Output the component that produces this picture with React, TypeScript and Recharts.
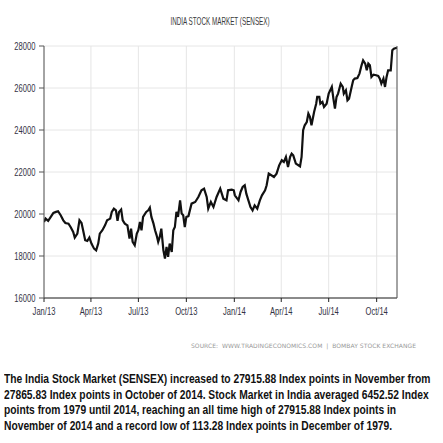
import React from 'react';
import { LineChart, Line, XAxis, YAxis, CartesianGrid } from 'recharts';

// SENSEX closes (roughly every 3-5 days)
const dates = [
  '2013-01-01', '2013-01-04', '2013-01-09', '2013-01-14', '2013-01-19', '2013-01-24', '2013-01-28',
  '2013-02-02', '2013-02-07', '2013-02-11', '2013-02-17', '2013-02-21', '2013-02-26',
  '2013-03-01', '2013-03-06', '2013-03-10', '2013-03-14', '2013-03-17', '2013-03-21', '2013-03-25', '2013-03-29',
  '2013-04-02', '2013-04-07', '2013-04-11', '2013-04-15', '2013-04-18', '2013-04-23', '2013-04-28',
  '2013-05-02', '2013-05-08', '2013-05-11', '2013-05-15', '2013-05-19', '2013-05-22', '2013-05-25', '2013-05-29',
  '2013-06-01', '2013-06-05', '2013-06-10', '2013-06-14', '2013-06-17', '2013-06-20', '2013-06-24', '2013-06-28',
  '2013-07-01', '2013-07-04', '2013-07-07', '2013-07-10', '2013-07-16', '2013-07-20', '2013-07-23', '2013-07-26', '2013-07-30',
  '2013-08-02', '2013-08-05', '2013-08-08', '2013-08-11', '2013-08-14', '2013-08-18', '2013-08-21', '2013-08-24', '2013-08-27', '2013-08-30',
  '2013-09-03', '2013-09-06', '2013-09-09', '2013-09-12', '2013-09-15', '2013-09-19', '2013-09-22', '2013-09-25', '2013-09-28',
  '2013-10-01', '2013-10-05', '2013-10-11', '2013-10-18', '2013-10-24', '2013-10-30',
  '2013-11-04', '2013-11-09', '2013-11-12', '2013-11-17', '2013-11-22', '2013-11-28',
  '2013-12-05', '2013-12-11', '2013-12-17', '2013-12-20', '2013-12-27', '2013-12-31',
  '2014-01-02', '2014-01-09', '2014-01-13', '2014-01-17', '2014-01-21', '2014-01-24', '2014-01-28',
  '2014-02-01', '2014-02-05', '2014-02-09', '2014-02-14', '2014-02-19', '2014-02-23',
  '2014-03-01', '2014-03-04', '2014-03-08', '2014-03-13', '2014-03-18', '2014-03-23', '2014-03-28',
  '2014-04-02', '2014-04-06', '2014-04-10', '2014-04-14', '2014-04-18', '2014-04-21', '2014-04-24', '2014-04-29',
  '2014-05-04', '2014-05-07', '2014-05-10', '2014-05-13', '2014-05-16', '2014-05-20', '2014-05-23', '2014-05-26', '2014-05-29',
  '2014-06-03', '2014-06-07', '2014-06-09', '2014-06-13', '2014-06-15', '2014-06-19', '2014-06-22', '2014-06-27',
  '2014-07-01', '2014-07-07', '2014-07-10', '2014-07-13', '2014-07-16', '2014-07-19', '2014-07-24', '2014-07-28', '2014-07-30',
  '2014-08-03', '2014-08-06', '2014-08-09', '2014-08-14', '2014-08-17', '2014-08-20', '2014-08-25', '2014-08-29',
  '2014-09-02', '2014-09-05', '2014-09-09', '2014-09-12', '2014-09-15', '2014-09-18', '2014-09-21', '2014-09-25', '2014-09-30',
  '2014-10-04', '2014-10-07', '2014-10-10', '2014-10-14', '2014-10-17', '2014-10-20', '2014-10-23', '2014-10-28', '2014-10-31',
  '2014-11-03', '2014-11-07', '2014-11-09',
];

const sensex = [
  19620, 19780, 19670, 19860, 20050, 20100, 20130,
  19940, 19700, 19570, 19540, 19380, 19145,
  18875, 19065, 19700, 19570, 19225, 18750, 18715, 18875,
  18590, 18350, 18270, 18590, 19065, 19225, 19460,
  19700, 19780, 20100, 20256, 20175, 19670, 20100, 20210,
  19700, 19540, 19460, 18830, 19300, 18670, 18510, 19065,
  19225, 19620, 19225, 19860, 20100, 20175, 20300, 19860, 19540,
  19225, 18985, 18670, 18907, 19300, 18270, 17875, 18430, 17955, 18590,
  18190, 19225, 19380, 20100, 19860, 20650, 20018, 19940, 19380,
  19860, 19900, 20493, 20573, 20811, 21128,
  21208, 20811, 20255, 20573, 20335, 20811,
  21208, 20731, 20652, 21128, 21160, 21128,
  20890, 20652, 21049, 21287, 21367, 20970, 20652,
  20335, 20176, 20414, 20256, 20652, 20890,
  21129, 21367, 21922, 21843, 21763, 21922, 22319,
  22557, 22478, 22716, 22240, 22716, 22875, 22795, 22398,
  22319, 22271, 22716, 23986, 24224, 24382, 24779, 24621, 24224,
  24859, 25254, 25573, 25573, 25254, 25335, 25097, 25254,
  25732, 26050, 25494, 25018, 25574, 25732, 26208, 26050, 25732,
  25891, 25415, 25494, 26050, 26367, 26447, 26478, 26685,
  27081, 27320, 27161, 26843, 27161, 27081, 26526, 26637, 26605,
  26573, 26447, 26208, 26447, 26050, 26526, 26843, 26843, 27796,
  27875, 27907, 27916,
];

const quarterStarts = ['2013-01-01', '2013-04-01', '2013-07-01', '2013-10-01', '2014-01-01', '2014-04-01', '2014-07-01', '2014-10-01'];
const quarterLabels = ['Jan/13', 'Apr/13', 'Jul/13', 'Oct/13', 'Jan/14', 'Apr/14', 'Jul/14', 'Oct/14'];
const yTicks = [16000, 18000, 20000, 22000, 24000, 26000, 28000];

const summaryLines = [
  'The India Stock Market (SENSEX) increased to 27915.88 Index points in November from',
  '27865.83 Index points in October of 2014. Stock Market in India averaged 6452.52 Index',
  'points from 1979 until 2014, reaching an all time high of 27915.88 Index points in',
  'November of 2014 and a record low of 113.28 Index points in December of 1979.',
];

const toTime = (d: string) => new Date(d + 'T00:00:00Z').getTime();

const data = dates.map((d, i) => ({ t: toTime(d), v: sensex[i] }));
const xTicks = quarterStarts.map(toTime);
const labelFor = (t: number) => quarterLabels[xTicks.indexOf(t)] ?? '';

const font = "'Liberation Sans', Arial, sans-serif";

// condensed tick label: the original uses a narrow face, so squeeze Liberation Sans
const NarrowTick = (props: any) => {
  const { x, y, payload, textAnchor, axis } = props;
  const label = axis === 'x' ? labelFor(payload.value) : String(payload.value);
  return (
    <g transform={`translate(${x},${y}) scale(0.76,1)`}>
      <text
        x={axis === 'right' ? 2 : axis === 'left' ? -2 : 0}
        y={0}
        dy={axis === 'x' ? '1.15em' : '0.36em'}
        textAnchor={textAnchor}
        fontSize={10}
        fontFamily={font}
        fill="#333344"
      >
        {label}
      </text>
    </g>
  );
};

export default function App() {
  return (
    <div style={{ position: 'absolute', left: 0, top: 0, width: 443, height: 443, background: '#fff', overflow: 'hidden' }}>
      <div
        style={{
          position: 'absolute', top: 15, left: 220, whiteSpace: 'nowrap',
          transform: 'translateX(-50%) scaleX(0.6)', transformOrigin: 'center',
          fontFamily: font, fontSize: 10.5, color: '#3a3a3a',
        }}
      >
        INDIA STOCK MARKET (SENSEX)
      </div>

      <div style={{ position: 'absolute', top: 0, left: 0 }}>
        <LineChart width={443} height={330} data={data} margin={{ top: 46, right: 6, bottom: 0, left: 4 }}>
          <CartesianGrid stroke="#e6e6e6" yAxisId="left" />
          <XAxis
            dataKey="t"
            type="number"
            scale="time"
            domain={[toTime('2013-01-01'), toTime('2014-11-09')]}
            ticks={xTicks}
            interval={0}
            tick={(p: any) => <NarrowTick {...p} axis="x" />}
            tickSize={4}
            height={32}
            stroke="#222"
            allowDataOverflow
          />
          <YAxis
            yAxisId="left"
            domain={[16000, 28000]}
            ticks={yTicks}
            tick={(p: any) => <NarrowTick {...p} axis="left" />}
            tickSize={5}
            width={40}
            stroke="#555"
            interval={0}
          />
          <YAxis
            yAxisId="right"
            orientation="right"
            domain={[16000, 28000]}
            ticks={yTicks}
            tick={(p: any) => <NarrowTick {...p} axis="right" />}
            tickSize={5}
            width={40}
            stroke="#555"
            interval={0}
          />
          <Line
            yAxisId="left"
            dataKey="v"
            type="linear"
            stroke="#111"
            strokeWidth={2.2}
            dot={false}
            isAnimationActive={false}
          />
        </LineChart>
      </div>

      <div
        style={{
          position: 'absolute', top: 342, left: 191, fontFamily: "'DejaVu Sans', sans-serif", fontSize: 6,
          color: '#999', letterSpacing: 0.05, whiteSpace: 'nowrap',
        }}
      >
        SOURCE:&nbsp; WWW.TRADINGECONOMICS.COM &nbsp;|&nbsp; BOMBAY STOCK EXCHANGE
      </div>

      <div
        style={{
          position: 'absolute', top: 371, left: 4, fontFamily: font, fontWeight: 'bold', fontSize: 13,
          lineHeight: '15.5px', color: '#111', transform: 'scaleX(0.79)', transformOrigin: 'left top',
        }}
      >
        {summaryLines.map((l) => (
          <div key={l} style={{ whiteSpace: 'nowrap' }}>{l}</div>
        ))}
      </div>
    </div>
  );
}
